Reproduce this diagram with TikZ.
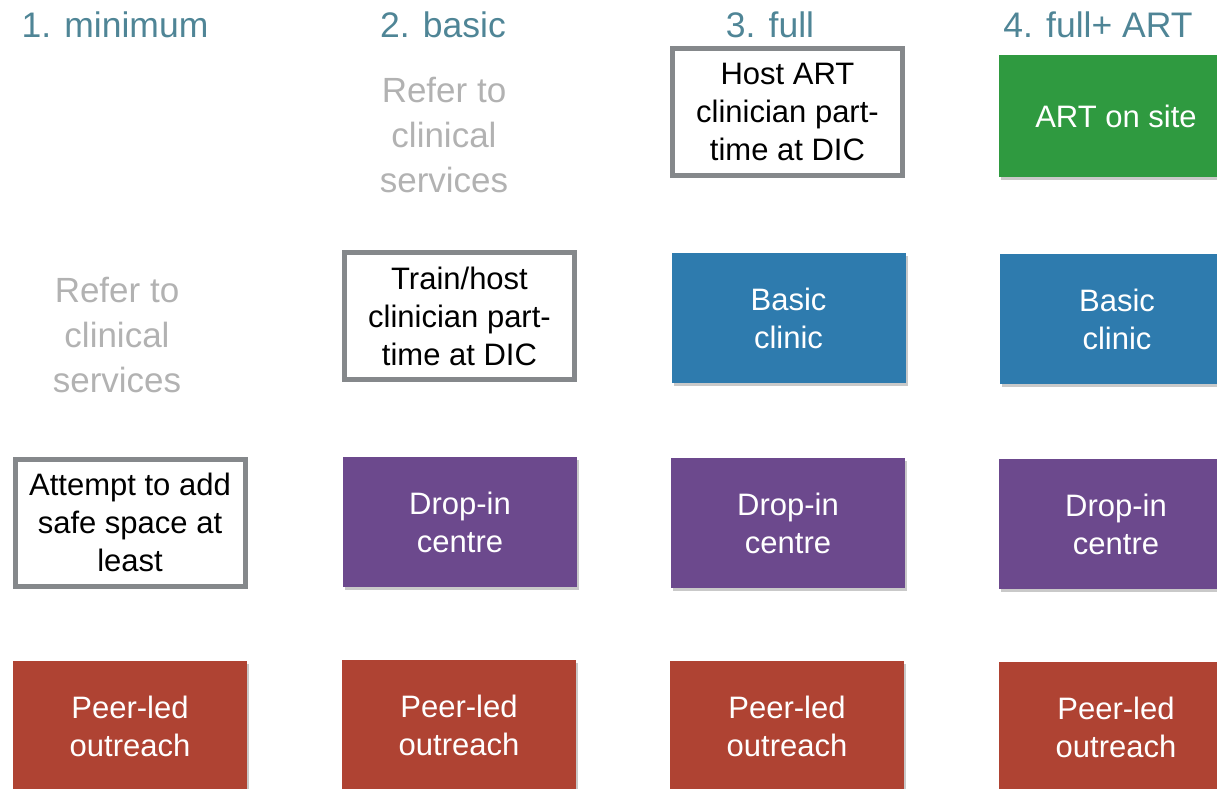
\documentclass[tikz,border=0pt]{standalone}
\usepackage{fontspec}
\setmainfont{Liberation Sans}
\usetikzlibrary{shadows}
\definecolor{headc}{HTML}{4F8596}
\definecolor{greytxt}{HTML}{B2B2B2}
\definecolor{bordc}{HTML}{85888B}
\definecolor{artgreen}{HTML}{2F9A40}
\definecolor{clinblue}{HTML}{2E7BAE}
\definecolor{dicpurple}{HTML}{6C498D}
\definecolor{peerred}{HTML}{AF4333}
\tikzset{
  head/.style={text=headc, font=\fontsize{35.5}{40}\selectfont, inner sep=0pt},
  greynote/.style={text=greytxt, align=center, font=\fontsize{35}{45}\selectfont, inner sep=0pt},
  outlinebox/.style={draw=bordc, line width=5pt, fill=white, minimum width=230pt, minimum height=127pt,
    inner sep=0pt, align=center, text=black, font=\fontsize{31}{38}\selectfont},
  colorbox/.style={minimum width=234pt, minimum height=130pt, inner sep=0pt, align=center,
    text=white, font=\fontsize{31}{38}\selectfont,
    drop shadow={shadow xshift=2pt, shadow yshift=-3pt, opacity=0.3, fill=black!70}},
}
\begin{document}
\begin{tikzpicture}[x=1pt,y=-1pt]
\useasboundingbox (0,0) rectangle (1217,789);
\clip (0,0) rectangle (1217,789);
% headers
\node[head] (h1) at (115,25) {1. minimum};
\node[head] (h2) at (443,25) {2. basic};
\node[head] (h3) at (770,25) {3. full};
\node[head] (h4) at (1098,25) {4. full+ ART};
% row 1
\node[greynote] (refer2) at (444,135) {Refer to\\clinical\\services};
\node[outlinebox] (host) at (787.5,112) {Host ART\\clinician part-\\time at DIC};
\node[colorbox, fill=artgreen, minimum height=122pt] (art) at (1116,116) {ART on site};
% row 2
\node[greynote] (refer1) at (117,335) {Refer to\\clinical\\services};
\node[outlinebox] (train) at (459.5,316) {Train/host\\clinician part-\\time at DIC};
\node[colorbox, fill=clinblue] (basic3) at (788.5,318) {Basic\\clinic};
\node[colorbox, fill=clinblue] (basic4) at (1117,319) {Basic\\clinic};
% row 3
\node[outlinebox] (attempt) at (130,522.5) {Attempt to add\\safe space at\\least};
\node[colorbox, fill=dicpurple] (drop2) at (460,522) {Drop-in\\centre};
\node[colorbox, fill=dicpurple] (drop3) at (788,523) {Drop-in\\centre};
\node[colorbox, fill=dicpurple] (drop4) at (1116,524) {Drop-in\\centre};
% row 4
\node[colorbox, fill=peerred] (peer1) at (130,726) {Peer-led\\outreach};
\node[colorbox, fill=peerred] (peer2) at (459,725) {Peer-led\\outreach};
\node[colorbox, fill=peerred] (peer3) at (787,726) {Peer-led\\outreach};
\node[colorbox, fill=peerred] (peer4) at (1116,727) {Peer-led\\outreach};
\end{tikzpicture}
\end{document}
